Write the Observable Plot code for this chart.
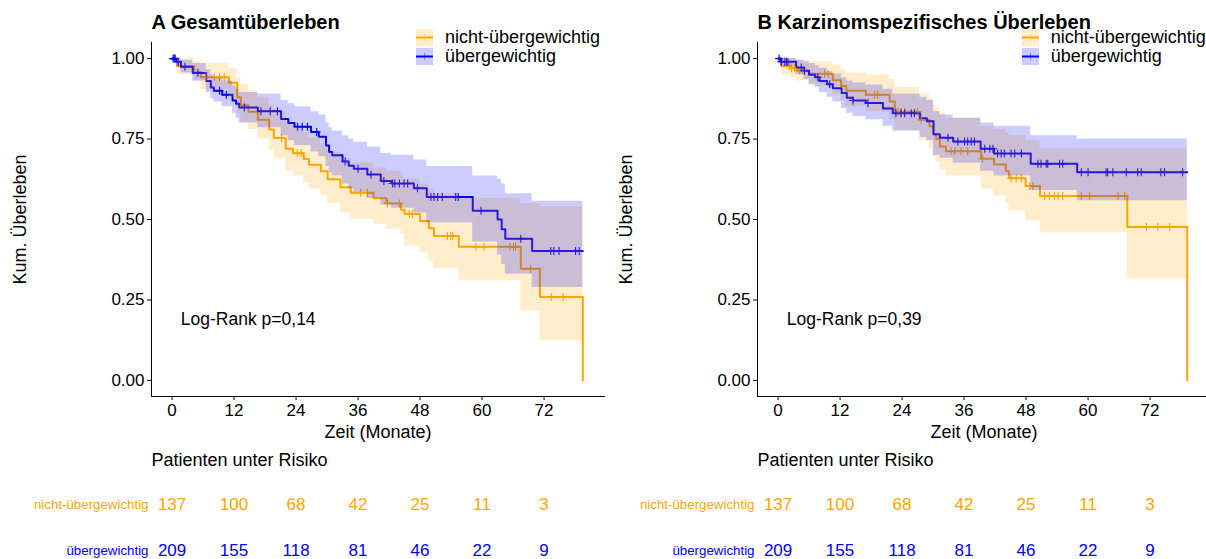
<!DOCTYPE html>
<html>
<head>
<meta charset="utf-8">
<script src="https://cdn.jsdelivr.net/npm/d3@7"></script>
<script src="https://cdn.jsdelivr.net/npm/@observablehq/plot@0.6"></script>
<style>
  html, body { margin: 0; padding: 0; background: #fff; overflow: hidden; }
  #root { position: relative; width: 1206px; height: 559px; overflow: hidden;
          font-family: "Liberation Sans", Arial, sans-serif; }
  .panel { position: absolute; top: 0; width: 604px; height: 559px; }
  .panel > svg { position: absolute; left: 0; }
  .legend { position: absolute; left: 416px; top: 28px; font-size: 18px; line-height: 19px; color: #000; }
  .legend .item { display: flex; align-items: center; height: 19px; white-space: nowrap; }
  .legend svg { margin-right: 12px; flex: none; }
</style>
</head>
<body>
<div id="root"></div>
<script>
const FONT = "Liberation Sans, Arial, sans-serif";

// Groups and colours
const groups = ["nicht-übergewichtig", "übergewichtig"];
const groupColors = ["#FFA500", "#0000FF"];

// Numbers at risk (identical for both endpoints)
const riskTimes = [0, 12, 24, 36, 48, 60, 72];
const riskNo = [137, 100, 68, 42, 25, 11, 3];
const riskOver = [209, 155, 118, 81, 46, 22, 9];

const yTicks = [0, 0.25, 0.5, 0.75, 1];

// A: overall survival, nicht-übergewichtig
const osNoTime  = [0, 1.0, 4.3, 5.6, 11.0, 12.6, 13.3, 14.8, 16.6, 18.8, 19.7, 22.0, 23.4, 25.5, 26.5, 28.8, 30.1, 32.6, 34.6, 39.0, 41.5, 44.3, 45.0, 48.0, 49.7, 50.7, 55.5, 67.5, 71.2, 79.5];
const osNoSurv  = [1, 0.976, 0.958, 0.942, 0.925, 0.88, 0.855, 0.835, 0.81, 0.78, 0.753, 0.72, 0.706, 0.688, 0.67, 0.65, 0.625, 0.60, 0.583, 0.566, 0.55, 0.53, 0.517, 0.495, 0.473, 0.449, 0.415, 0.347, 0.259, 0];
const osNoLower = [1, 0.95, 0.93, 0.905, 0.88, 0.83, 0.80, 0.78, 0.75, 0.715, 0.69, 0.65, 0.635, 0.615, 0.595, 0.575, 0.55, 0.52, 0.50, 0.485, 0.47, 0.455, 0.418, 0.397, 0.37, 0.347, 0.31, 0.216, 0.123, null];
const osNoUpper = [1, 1.0, 0.99, 0.985, 0.97, 0.94, 0.92, 0.90, 0.88, 0.855, 0.835, 0.80, 0.785, 0.77, 0.755, 0.735, 0.71, 0.69, 0.675, 0.66, 0.65, 0.635, 0.625, 0.61, 0.595, 0.58, 0.565, 0.55, 0.54, null];
const osNoCensor = [6.5, 8.2, 9.2, 10.1, 21.2, 24.2, 25.0, 36.5, 37.8, 41.7, 44.0, 45.9, 46.5, 53.3, 53.9, 54.3, 58.8, 60.4, 65.4, 66.1, 66.5, 69.4, 73.4, 75.7];

// A: overall survival, übergewichtig
const osOverTime  = [0, 0.8, 1.7, 4.0, 6.6, 7.5, 8.1, 9.7, 11.7, 12.4, 13.0, 16.6, 21.1, 22.5, 23.7, 26.9, 28.4, 29.8, 30.4, 31.0, 33.0, 34.2, 35.2, 37.8, 40.4, 42.5, 46.8, 49.3, 58.2, 63.0, 63.8, 64.5, 69.7, 79.5];
const osOverSurv  = [1, 0.99, 0.975, 0.955, 0.93, 0.91, 0.90, 0.888, 0.87, 0.86, 0.848, 0.836, 0.812, 0.80, 0.788, 0.772, 0.757, 0.73, 0.71, 0.70, 0.68, 0.667, 0.658, 0.64, 0.62, 0.612, 0.597, 0.57, 0.527, 0.50, 0.47, 0.44, 0.402, 0.402];
const osOverLower = [1, 0.975, 0.955, 0.93, 0.895, 0.875, 0.865, 0.85, 0.83, 0.815, 0.80, 0.785, 0.76, 0.745, 0.73, 0.71, 0.695, 0.665, 0.645, 0.635, 0.61, 0.595, 0.585, 0.565, 0.545, 0.535, 0.52, 0.49, 0.43, 0.39, 0.36, 0.33, 0.289, 0.289];
const osOverUpper = [1, 1.0, 0.995, 0.985, 0.965, 0.95, 0.94, 0.93, 0.915, 0.905, 0.895, 0.89, 0.87, 0.86, 0.85, 0.835, 0.825, 0.80, 0.785, 0.775, 0.76, 0.75, 0.74, 0.725, 0.705, 0.70, 0.685, 0.665, 0.635, 0.625, 0.61, 0.58, 0.557, 0.557];
const osOverCensor = [0.2, 0.4, 0.6, 1.2, 2.5, 5.0, 9.2, 10.5, 14.0, 17.2, 19.0, 20.4, 24.3, 25.2, 26.2, 28.0, 33.5, 36.0, 38.5, 41.0, 42.7, 43.1, 44.0, 44.9, 45.6, 47.5, 50.1, 50.7, 51.4, 52.3, 54.9, 55.4, 59.8, 67.5, 73.3, 73.9, 74.9, 78.1, 78.8];

// B: cancer-specific survival, nicht-übergewichtig
const dssNoTime  = [0, 0.7, 2.5, 3.5, 6.0, 10.6, 12.2, 13.2, 17.0, 21.6, 22.6, 27.4, 29.3, 30.0, 30.6, 31.3, 32.5, 39.3, 41.8, 44.1, 44.7, 47.9, 50.7, 67.6, 79.2];
const dssNoSurv  = [1, 0.976, 0.97, 0.963, 0.953, 0.933, 0.915, 0.90, 0.888, 0.867, 0.835, 0.81, 0.79, 0.765, 0.75, 0.727, 0.712, 0.689, 0.671, 0.65, 0.628, 0.604, 0.573, 0.477, 0];
const dssNoLower = [1, 0.95, 0.94, 0.93, 0.915, 0.89, 0.87, 0.85, 0.835, 0.81, 0.775, 0.745, 0.72, 0.695, 0.68, 0.655, 0.635, 0.595, 0.573, 0.55, 0.527, 0.496, 0.459, 0.315, null];
const dssNoUpper = [1, 1.0, 1.0, 0.995, 0.99, 0.98, 0.965, 0.955, 0.95, 0.935, 0.91, 0.89, 0.875, 0.855, 0.845, 0.83, 0.815, 0.79, 0.78, 0.77, 0.76, 0.745, 0.72, 0.72, null];
const dssNoCensor = [2.2, 2.6, 3.2, 4.2, 4.8, 9.0, 9.7, 18.7, 19.3, 23.2, 23.8, 24.5, 27.0, 27.7, 33.5, 34.2, 35.4, 36.7, 39.6, 45.1, 46.1, 47.1, 48.7, 49.3, 51.6, 52.5, 53.5, 54.2, 55.1, 58.7, 60.3, 65.8, 67.1, 71.3, 73.5, 75.8];

// B: cancer-specific survival, übergewichtig
const dssOverTime  = [0, 0.5, 3.5, 5.0, 6.0, 7.2, 8.0, 9.5, 10.6, 12.3, 13.3, 14.5, 17.0, 20.3, 22.2, 27.5, 28.8, 30.1, 31.3, 33.9, 39.2, 41.8, 48.9, 57.9, 79.2];
const dssOverSurv  = [1, 0.99, 0.972, 0.962, 0.95, 0.942, 0.93, 0.92, 0.908, 0.893, 0.878, 0.87, 0.862, 0.845, 0.83, 0.815, 0.805, 0.765, 0.754, 0.742, 0.72, 0.705, 0.673, 0.647, 0.647];
const dssOverLower = [1, 0.975, 0.95, 0.935, 0.92, 0.91, 0.895, 0.88, 0.865, 0.845, 0.83, 0.82, 0.81, 0.79, 0.775, 0.755, 0.745, 0.70, 0.69, 0.675, 0.65, 0.635, 0.59, 0.558, 0.558];
const dssOverUpper = [1, 1.0, 0.995, 0.99, 0.985, 0.978, 0.97, 0.96, 0.952, 0.94, 0.93, 0.925, 0.918, 0.905, 0.89, 0.88, 0.87, 0.835, 0.825, 0.815, 0.80, 0.79, 0.76, 0.75, 0.75];
const dssOverCensor = [0.2, 0.6, 1.3, 1.6, 1.9, 4.5, 5.1, 7.7, 10.0, 14.5, 17.4, 22.8, 23.8, 24.5, 25.8, 26.4, 32.9, 34.8, 36.1, 36.7, 37.4, 38.0, 40.0, 41.0, 41.6, 42.5, 43.2, 43.8, 45.1, 45.8, 47.1, 50.3, 50.9, 51.9, 52.2, 54.5, 55.1, 58.7, 60.0, 63.5, 63.8, 64.8, 67.4, 69.6, 70.3, 74.1, 74.8, 78.3];

// x domain: follow-up range with ggplot-style padding
const xDomain = [-3.98, 83.7];
const yDomain = [-0.05, 1.05];

function steps(time, surv, lower, upper) {
  return time.map((t, i) => ({time: t, surv: surv[i], lower: lower[i], upper: upper[i]}));
}
// confidence band carried to the last follow-up time
function band(rows) {
  let last = rows[0];
  return rows.map(r => {
    if (r.lower != null) last = r;
    return {time: r.time, lower: last.lower, upper: last.upper};
  });
}
function survAt(rows, t) {
  let s = rows[0].surv;
  for (const r of rows) { if (r.time <= t) s = r.surv; else break; }
  return s;
}

function kmPlot(title, pText, curves) {
  return Plot.plot({
    width: 604, height: 445,
    marginLeft: 151, marginRight: 0, marginTop: 42, marginBottom: 49,
    style: {fontFamily: FONT, fontSize: "17px", color: "#000", background: "transparent", overflow: "visible"},
    x: {domain: xDomain, ticks: riskTimes, tickSize: 4, tickPadding: 3, label: null, line: true},
    y: {domain: yDomain, ticks: yTicks, tickFormat: d3.format(".2f"), tickSize: 4, tickPadding: 3, label: null, line: true},
    marks: [
      ...curves.map(c => Plot.line(c.rows, {x: "time", y: "surv", curve: "step-after", stroke: c.color, strokeWidth: 2})),
      ...curves.map(c => Plot.dot(c.censor, {x: d => d, y: d => survAt(c.rows, d), symbol: "plus", r: 2.7, stroke: c.color, strokeWidth: 1.1})),
      ...curves.map(c => Plot.areaY(band(c.rows), {x: "time", y1: "lower", y2: "upper", curve: "step-after", fill: c.color, fillOpacity: 0.2})),
      Plot.text([pText], {x: 1.7, y: 0.19, textAnchor: "start", fontSize: 17.5, fill: "#000"}),
      Plot.text([title], {frameAnchor: "top-left", dy: -20, textAnchor: "start", lineAnchor: "middle", fontWeight: "bold", fontSize: 20, fill: "#000"}),
      Plot.text(["Kum. Überleben"], {frameAnchor: "left", dx: -131, rotate: -90, textAnchor: "middle", lineAnchor: "middle", fontSize: 18, fill: "#000"}),
      Plot.text(["Zeit (Monate)"], {frameAnchor: "bottom", dy: 36, textAnchor: "middle", lineAnchor: "middle", fontSize: 18, fill: "#000"})
    ]
  });
}

function riskPlot() {
  const counts = [riskNo, riskOver];
  const rows = [];
  groups.forEach((g, i) => riskTimes.forEach((t, j) => rows.push({group: g, time: t, n: counts[i][j]})));
  return Plot.plot({
    width: 604, height: 114,
    marginLeft: 151, marginRight: 0, marginTop: 0, marginBottom: 0,
    style: {fontFamily: FONT, fontSize: "17px", color: "#000", background: "transparent", overflow: "visible"},
    x: {domain: xDomain, axis: null},
    y: {type: "point", domain: groups, range: [59, 105], padding: 0, axis: null},
    color: {domain: groups, range: groupColors},
    marks: [
      Plot.text(["Patienten unter Risiko"], {frameAnchor: "top-left", dy: 15, textAnchor: "start", lineAnchor: "middle", fontSize: 18, fill: "#000"}),
      Plot.text(rows, {x: "time", y: "group", text: "n", fill: "group", fontSize: 17}),
      Plot.text(groups, {y: d => d, frameAnchor: "left", dx: -3, textAnchor: "end", fill: d => d, fontSize: 13.3})
    ]
  });
}

function legend() {
  const div = document.createElement("div");
  div.className = "legend";
  groups.forEach((g, i) => {
    const c = groupColors[i];
    const item = document.createElement("div");
    item.className = "item";
    item.innerHTML =
      `<svg width="17" height="17"><rect width="17" height="17" fill="${c}" fill-opacity="0.2"/>` +
      `<line x1="0" x2="17" y1="8.5" y2="8.5" stroke="${c}" stroke-width="2"/>` +
      `<line x1="8.5" x2="8.5" y1="5" y2="12" stroke="${c}" stroke-opacity="0.35" stroke-width="1"/></svg>` +
      `<span>${g}</span>`;
    div.appendChild(item);
  });
  return div;
}

function panel(left, title, pText, curves) {
  const p = document.createElement("div");
  p.className = "panel";
  p.style.left = left + "px";
  const km = kmPlot(title, pText, curves);
  km.style.top = "0px";
  const risk = riskPlot();
  risk.style.top = "445px";
  p.appendChild(km);
  p.appendChild(risk);
  p.appendChild(legend());
  document.getElementById("root").appendChild(p);
}

panel(0, "A Gesamtüberleben", "Log-Rank p=0,14", [
  {rows: steps(osNoTime, osNoSurv, osNoLower, osNoUpper), censor: osNoCensor, color: groupColors[0]},
  {rows: steps(osOverTime, osOverSurv, osOverLower, osOverUpper), censor: osOverCensor, color: groupColors[1]}
]);
panel(605.7, "B Karzinomspezifisches Überleben", "Log-Rank p=0,39", [
  {rows: steps(dssNoTime, dssNoSurv, dssNoLower, dssNoUpper), censor: dssNoCensor, color: groupColors[0]},
  {rows: steps(dssOverTime, dssOverSurv, dssOverLower, dssOverUpper), censor: dssOverCensor, color: groupColors[1]}
]);
</script>
</body>
</html>
